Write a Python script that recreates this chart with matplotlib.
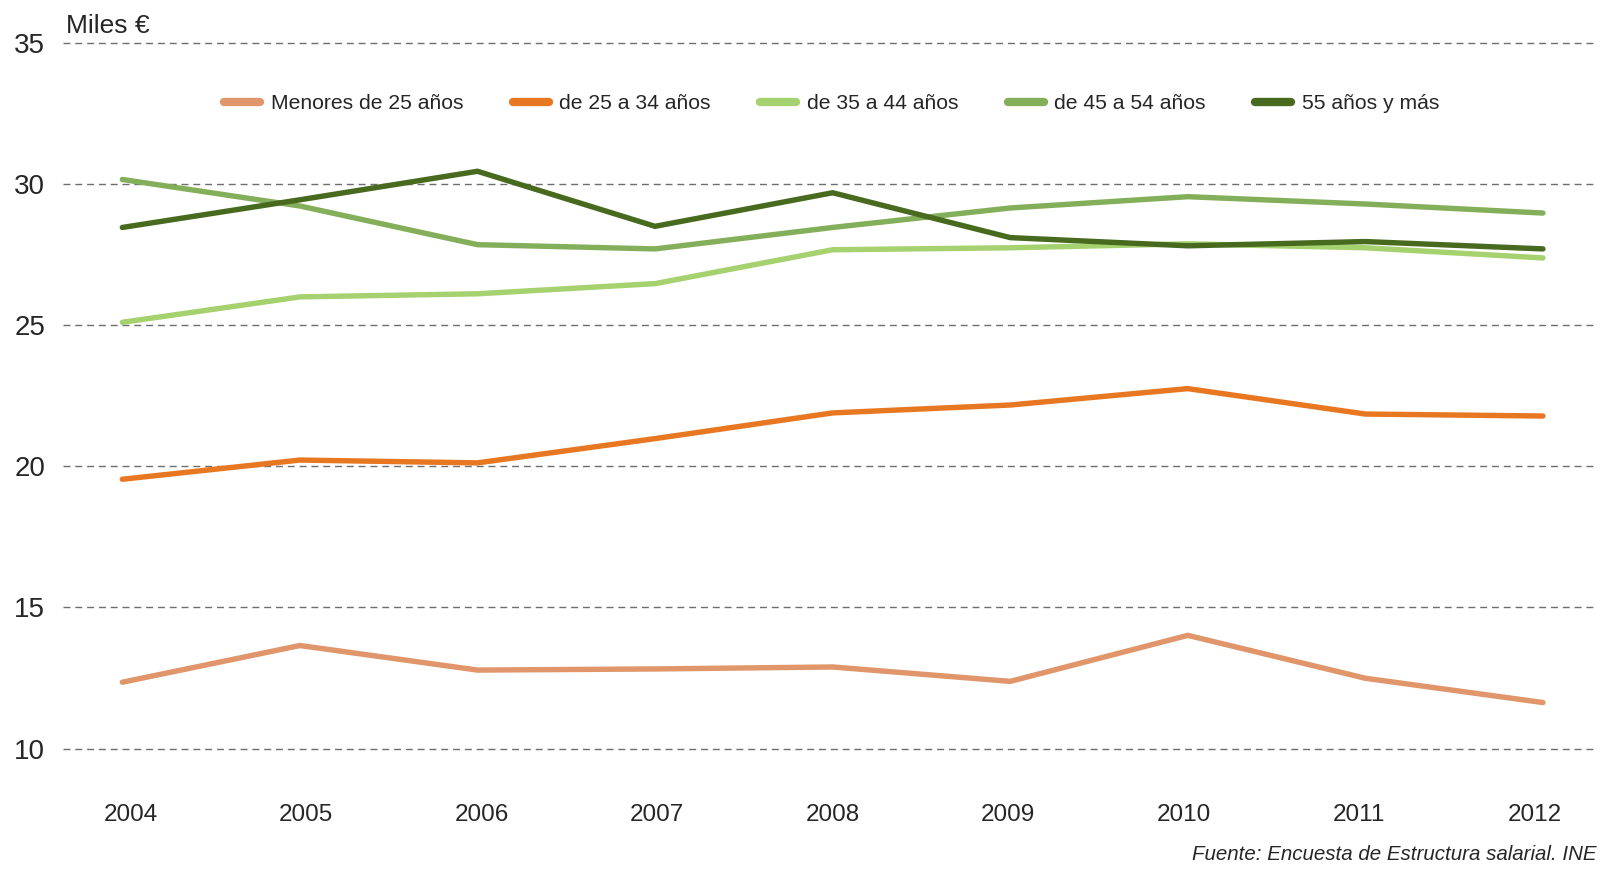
import matplotlib
matplotlib.use("Agg")
import matplotlib.pyplot as plt
import numpy as np

# ----------------------
# Datos (miles de euros)
# ----------------------
years = ["2004", "2005", "2006", "2007", "2008", "2009", "2010", "2011", "2012"]

menores_25 = [12.35, 13.65, 12.78, 12.82, 12.89, 12.38, 14.01, 12.49, 11.63]
de_25_34 = [19.54, 20.22, 20.12, 20.98, 21.89, 22.17, 22.75, 21.85, 21.78]
de_35_44 = [25.10, 26.00, 26.11, 26.47, 27.67, 27.74, 27.88, 27.74, 27.38]
de_45_54 = [30.16, 29.22, 27.85, 27.70, 28.46, 29.15, 29.55, 29.29, 28.97]
mas_55 = [28.46, 29.44, 30.45, 28.50, 29.69, 28.10, 27.81, 27.96, 27.70]

labels = ["Menores de 25 años", "de 25 a 34 años", "de 35 a 44 años",
          "de 45 a 54 años", "55 años y más"]
series = [menores_25, de_25_34, de_35_44, de_45_54, mas_55]
colors = ["#E0956A", "#E87722", "#A5D16F", "#84AF5A", "#476A1F"]

y_ticks = [10, 15, 20, 25, 30, 35]

# ----------------------
# Estilo
# ----------------------
plt.rcParams["font.family"] = ["Liberation Sans", "DejaVu Sans"]
text_color = "#262626"

fig = plt.figure(figsize=(16, 8.71), dpi=100)
ax = fig.add_axes([0.0395, 0.1341, 0.9567, 0.8232])

x = np.arange(len(years))
for vals, color, label in zip(series, colors, labels):
    ax.plot(x, vals, color=color, linewidth=3.9, label=label,
            solid_capstyle="round", solid_joinstyle="miter")

ax.set_xlim(-0.333, 8.287)
ax.set_ylim(9.8, 35.2)
ax.set_yticks(y_ticks)
# las etiquetas del eje x van ligeramente desplazadas respecto a los puntos
ax.set_xticks(np.linspace(0.046, 7.954, len(years)))
ax.set_xticklabels(years)

for v in y_ticks:
    ax.axhline(v, color="#6E6E6E", linewidth=1.0, linestyle=(0, (5, 3.5)),
               zorder=0)

for spine in ax.spines.values():
    spine.set_visible(False)
ax.tick_params(axis="both", length=0, colors=text_color)
ax.tick_params(axis="y", labelsize=20, pad=13)
ax.tick_params(axis="x", labelsize=17.5, pad=36)

leg = ax.legend(loc="center", bbox_to_anchor=(0.502, 0.907), ncol=5,
                frameon=False, fontsize=15.2, handlelength=1.7,
                columnspacing=2.35, handletextpad=0.5)
for h in leg.get_lines():
    h.set_linewidth(6)
    h.set_solid_capstyle("round")
for t in leg.get_texts():
    t.set_color(text_color)

fig.text(0.0415, 0.962, "Miles €", fontsize=19, color=text_color,
         ha="left", va="baseline")
fig.text(0.998, 0.0126, "Fuente: Encuesta de Estructura salarial. INE",
         fontsize=14.8, style="italic", color=text_color, ha="right",
         va="baseline")

plt.savefig("out.png", dpi=100)
plt.close()
